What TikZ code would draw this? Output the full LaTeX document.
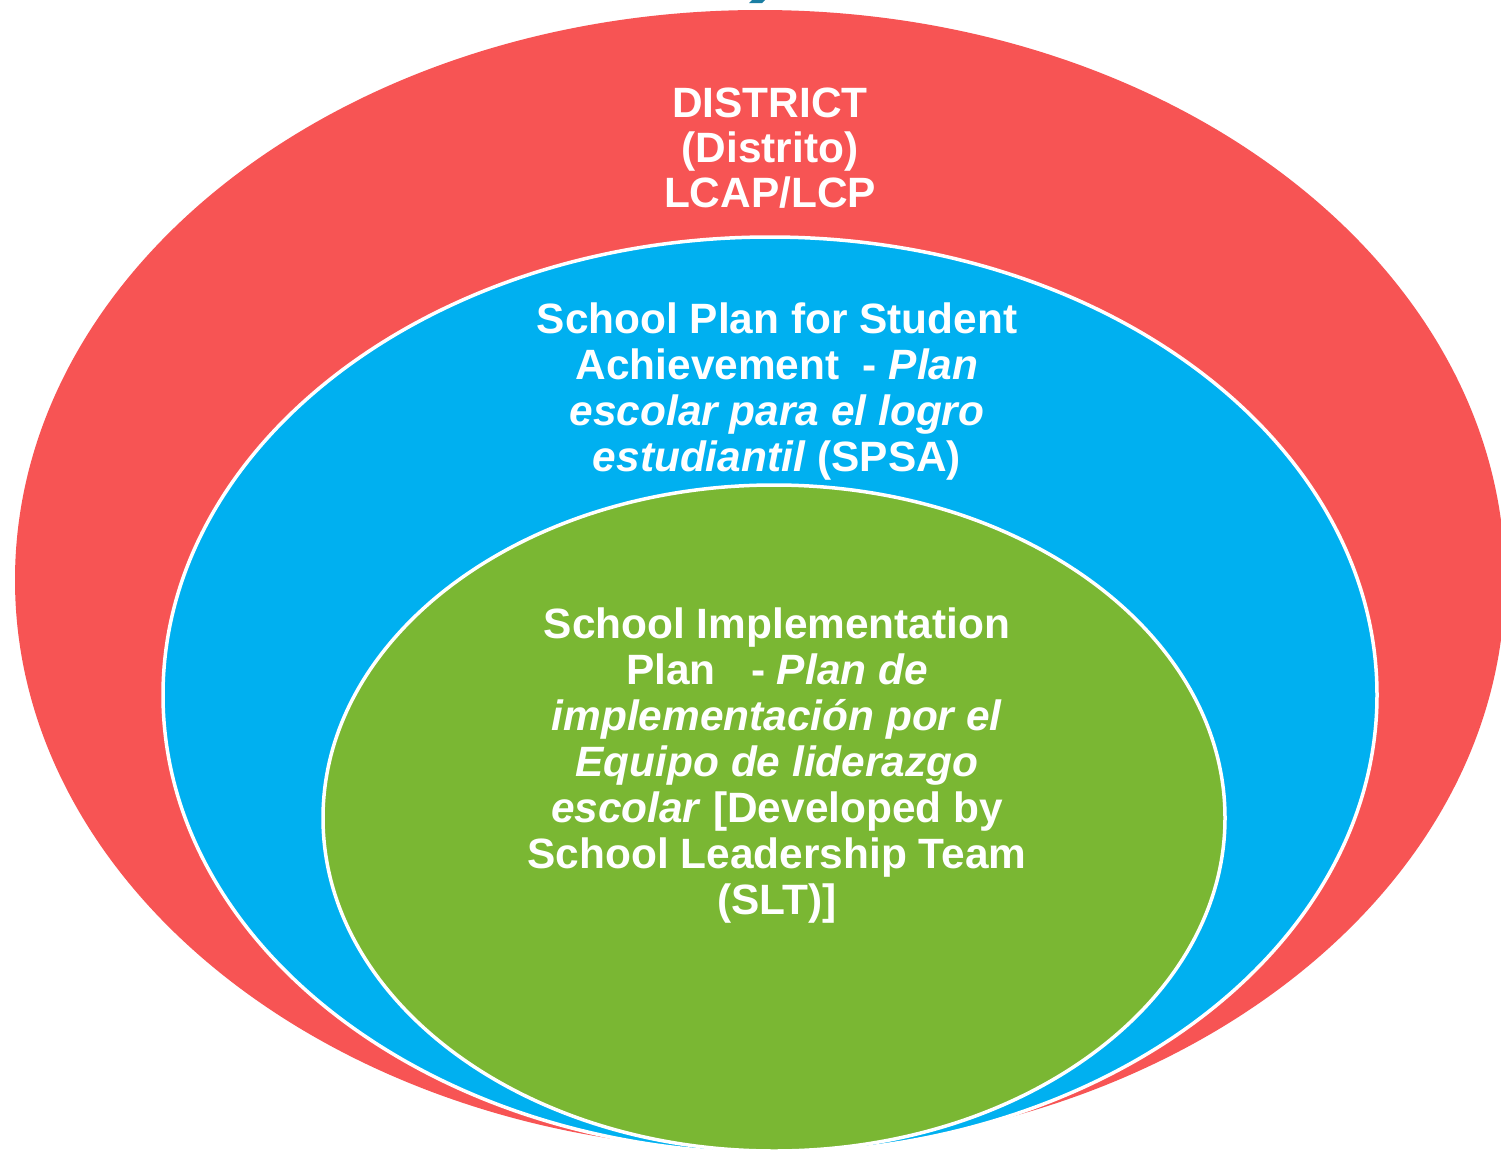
\documentclass[tikz,border=0pt]{standalone}
\usepackage{fontspec}
\setmainfont{Liberation Sans}
\definecolor{distred}{HTML}{F75454}
\definecolor{spsablue}{HTML}{00B0F0}
\definecolor{sipgreen}{HTML}{7AB733}
\definecolor{titleteal}{HTML}{1A7EA3}
\begin{document}
\begin{tikzpicture}[x=1pt,y=-1pt,
  ring/.style={draw=white,line width=3.5pt},
  label/.style={text=white,font=\bfseries\fontsize{42.4}{46}\selectfont,align=center,inner sep=0pt,anchor=north}]
\useasboundingbox (0,0) rectangle (1501,1154);
\fill[white] (0,0) rectangle (1501,1154);
% cut-off title fragment
\fill[titleteal] (752,0) -- (765,0) -- (762,3) -- (749,3) -- cycle;
% ellipses
\fill[distred] (760,580) ellipse [x radius=745, y radius=570];
\filldraw[ring,fill=spsablue] (770,695) ellipse [x radius=607, y radius=458];
\filldraw[ring,fill=sipgreen] (774,818) ellipse [x radius=451, y radius=333];
% texts
\node[label,font=\bfseries\fontsize{42.4}{45}\selectfont] (district) at (770,88)
  {DISTRICT\\(Distrito)\\LCAP/LCP};
\node[label] (spsa) at (777,303)
  {School Plan for Student\\Achievement\ \ - \textit{Plan}\\\textit{escolar para el logro}\\\textit{estudiantil} (SPSA)};
\node[label] (sip) at (777,608)
  {School Implementation\\Plan\ \ \ - \textit{Plan de}\\\textit{implementación por el}\\\textit{Equipo de liderazgo}\\\textit{escolar} [Developed by\\School Leadership Team\\(SLT)]};
\end{tikzpicture}
\end{document}
